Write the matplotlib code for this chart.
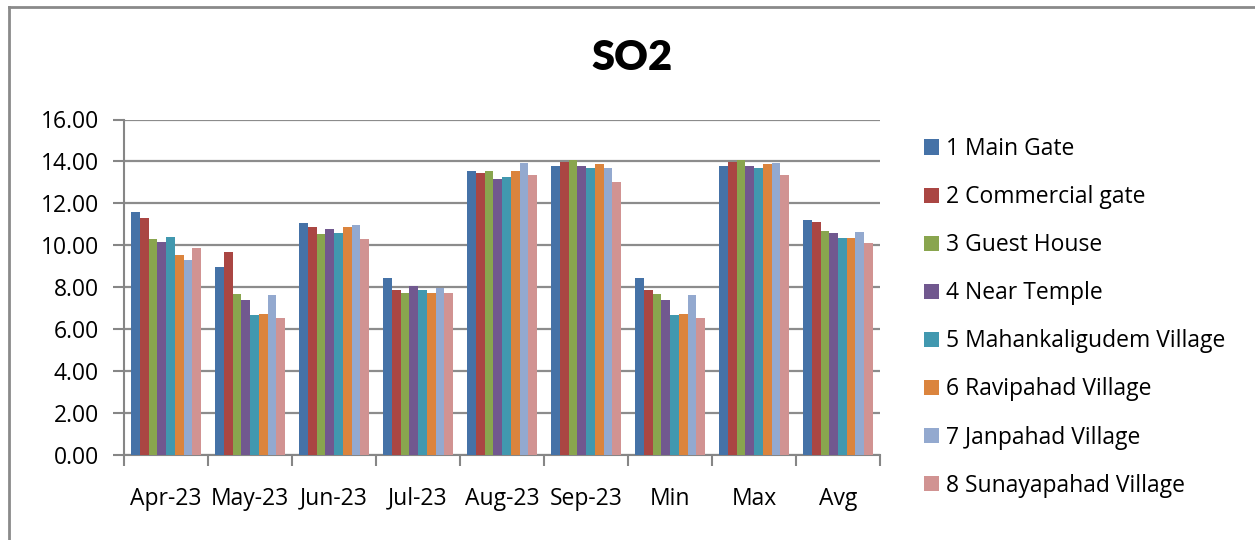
import matplotlib
matplotlib.use("Agg")
import matplotlib.pyplot as plt
import numpy as np
from matplotlib.lines import Line2D

categories = ["Apr-23", "May-23", "Jun-23", "Jul-23", "Aug-23", "Sep-23", "Min", "Max", "Avg"]
series_names = ["1 Main Gate", "2 Commercial gate", "3 Guest House", "4 Near Temple",
                "5 Mahankaligudem Village", "6 Ravipahad Village", "7 Janpahad Village",
                "8 Sunayapahad Village"]
main_gate       = [11.57, 8.98, 11.06, 8.44, 13.54, 13.79, 8.44, 13.79, 11.19]
commercial_gate = [11.29, 9.69, 10.87, 7.84, 13.44, 13.98, 7.84, 13.98, 11.13]
guest_house     = [10.29, 7.69, 10.54, 7.73, 13.54, 14.09, 7.69, 14.09, 10.70]
near_temple     = [10.15, 7.39, 10.78, 8.06, 13.15, 13.79, 7.39, 13.79, 10.56]
mahankaligudem  = [10.39, 6.65, 10.59, 7.84, 13.24, 13.68, 6.65, 13.68, 10.36]
ravipahad       = [9.53, 6.70, 10.87, 7.73, 13.54, 13.87, 6.70, 13.87, 10.36]
janpahad        = [9.29, 7.64, 10.98, 7.94, 13.94, 13.68, 7.64, 13.94, 10.62]
sunayapahad     = [9.88, 6.52, 10.30, 7.73, 13.35, 13.00, 6.52, 13.35, 10.09]
yticks = [0, 2, 4, 6, 8, 10, 12, 14, 16]

series = [main_gate, commercial_gate, guest_house, near_temple,
          mahankaligudem, ravipahad, janpahad, sunayapahad]
colors = ["#4572A7", "#AA4643", "#89A54E", "#71588F", "#4198AF", "#DB843D", "#93A9CF", "#D19392"]

plt.rcParams['font.family'] = ['Open Sans', 'DejaVu Sans']

W, H = 1255, 540
fig = plt.figure(figsize=(W / 100, H / 100), dpi=100)

# outer chart frame (left and top edges visible)
fig.add_artist(Line2D([9 / W, 9 / W], [0, 1 - 7 / H], transform=fig.transFigure,
                      color="#8a8a8a", lw=2))
fig.add_artist(Line2D([9 / W, 1], [1 - 7 / H, 1 - 7 / H], transform=fig.transFigure,
                      color="#8a8a8a", lw=2))

x0, x1 = 124, 880
ytop, ybot = 119.5, 454.7
ax = fig.add_axes([x0 / W, 1 - ybot / H, (x1 - x0) / W, (ybot - ytop) / H])

n = len(series)
bw = 1 / 9.6
x = np.arange(len(categories))
for i, (vals, c, name) in enumerate(zip(series, colors, series_names)):
    ax.bar(x + (i - (n - 1) / 2) * bw, vals, width=bw, color=c, label=name,
           edgecolor="none", zorder=3)

fs = 16.5
ax.set_xlim(-0.5, len(categories) - 0.5)
ax.set_ylim(0, 16)
ax.set_yticks(yticks)
ax.set_yticklabels([f"{v:.2f}" for v in yticks], fontsize=fs)
ax.yaxis.grid(True, color="#8c8c8c", lw=1.6, zorder=0)
ax.set_axisbelow(True)

ax.set_xticks(x)
ax.set_xticklabels(categories, fontsize=fs)
ax.set_xticks(np.arange(-0.5, len(categories), 1), minor=True)
ax.tick_params(axis="x", which="major", length=0, pad=23)
ax.tick_params(axis="x", which="minor", length=8, width=1.5, color="#868686")
ax.tick_params(axis="y", length=8, width=1.5, color="#868686", pad=10)

for s in ["top", "right"]:
    ax.spines[s].set_visible(False)
for s in ["left", "bottom"]:
    ax.spines[s].set_color("#868686")
    ax.spines[s].set_linewidth(1.5)

fig.text(632 / W, 1 - 58 / H, "SO2", ha="center", va="center", fontsize=30,
         fontweight="heavy", family=["Lato", "DejaVu Sans"])

fig.legend(loc="upper left", bbox_to_anchor=(915 / W, 1 - 128 / H), frameon=False,
           fontsize=fs, handlelength=0.65, handleheight=0.65, handletextpad=0.3,
           labelspacing=1.05, borderaxespad=0)

fig.savefig("out.png", dpi=100)
